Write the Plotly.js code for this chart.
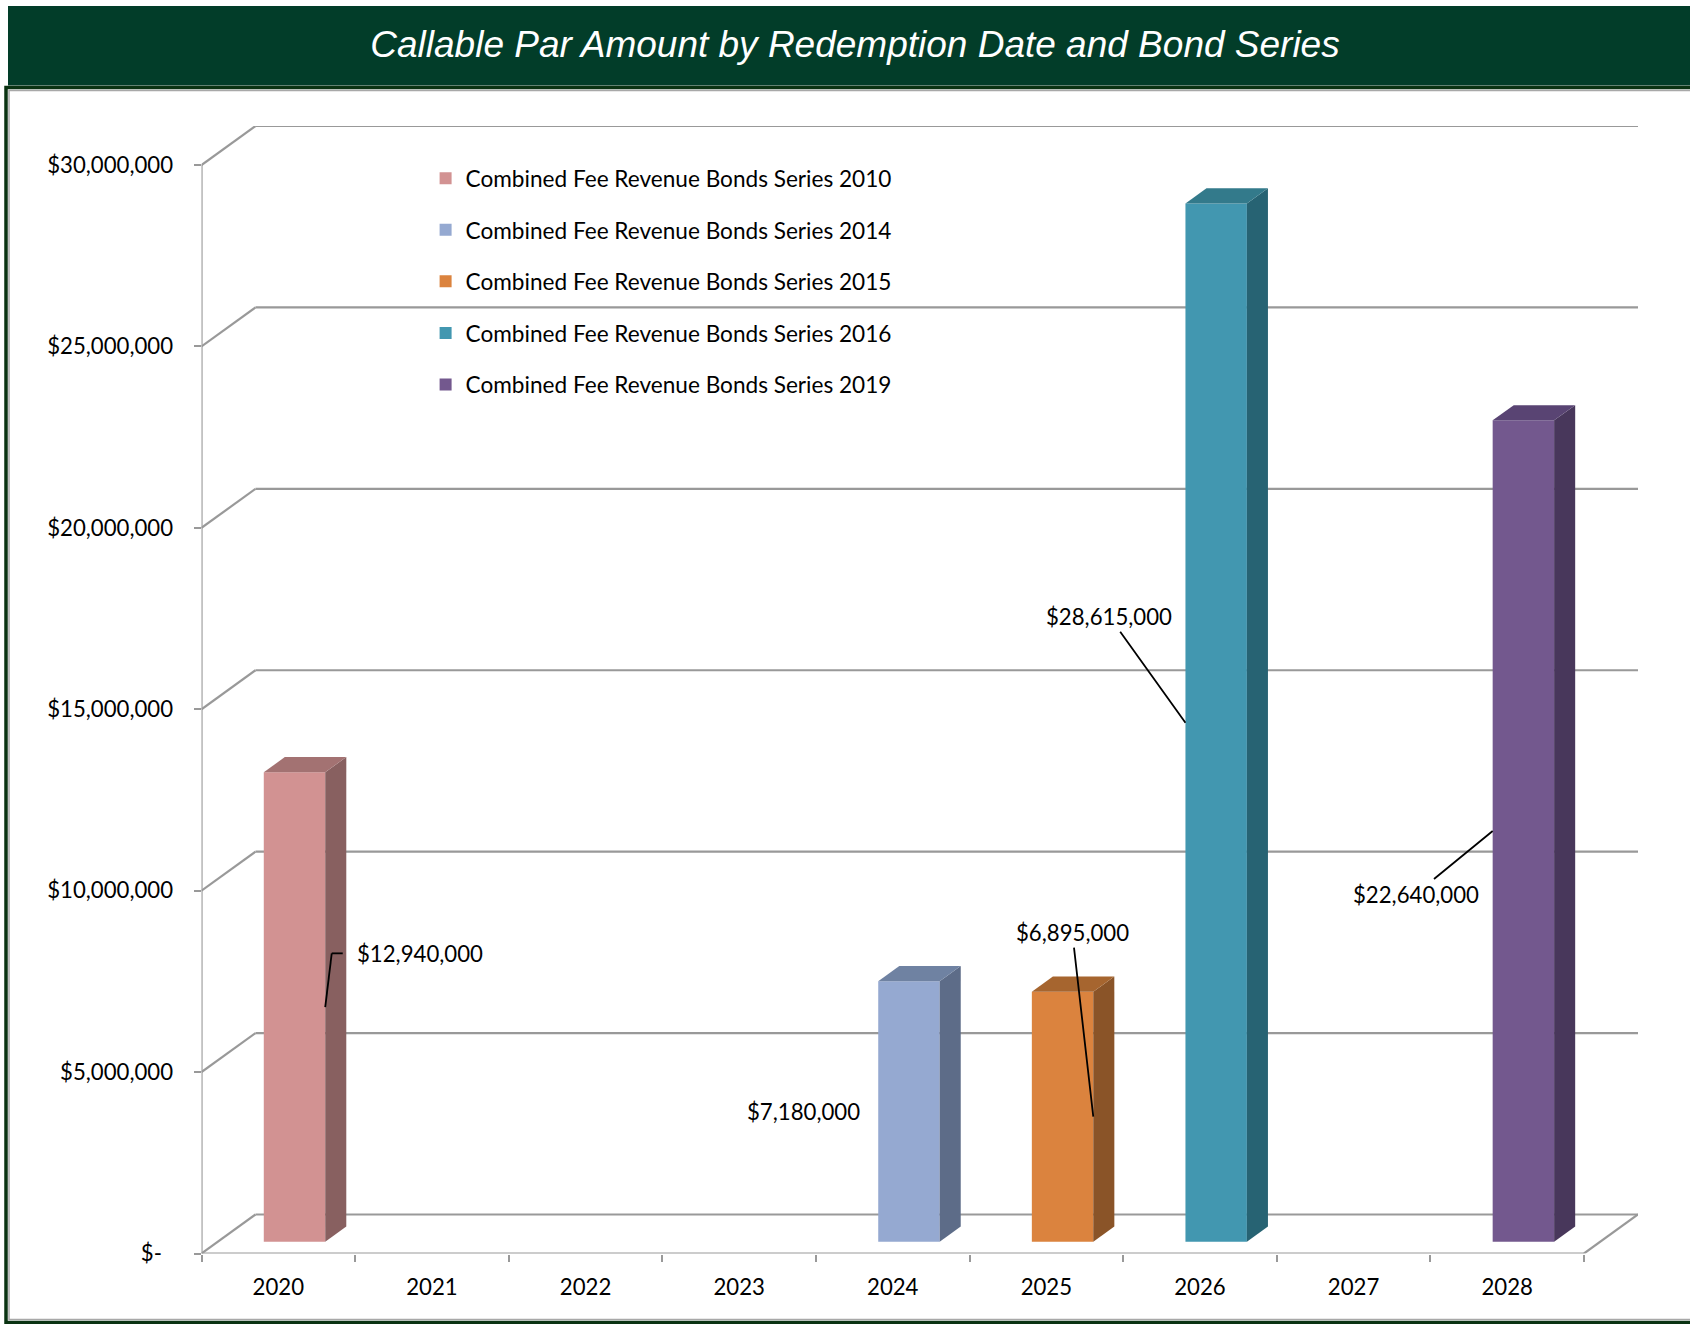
<!DOCTYPE html>
<html>
<head>
<meta charset="utf-8">
<script src="https://cdn.plot.ly/plotly-3.0.1.min.js"></script>
<style>html,body{margin:0;padding:0;background:#fff;}#chart{width:1690px;height:1324px;}</style>
</head>
<body>
<div id="chart"></div>
<script>
// ---------------- DATA ----------------
const years = ['2020', '2021', '2022', '2023', '2024', '2025', '2026', '2027', '2028'];
const seriesNames = [
  'Combined Fee Revenue Bonds Series 2010',
  'Combined Fee Revenue Bonds Series 2014',
  'Combined Fee Revenue Bonds Series 2015',
  'Combined Fee Revenue Bonds Series 2016',
  'Combined Fee Revenue Bonds Series 2019'
];
const series2010 = [12940000, null, null, null, null, null, null, null, null];
const series2014 = [null, null, null, null, 7180000, null, null, null, null];
const series2015 = [null, null, null, null, null, 6895000, null, null, null];
const series2016 = [null, null, null, null, null, null, 28615000, null, null];
const series2019 = [null, null, null, null, null, null, null, null, 22640000];
const yTickVals = [0, 5000000, 10000000, 15000000, 20000000, 25000000, 30000000];
const yTickText = ['$-\u2002', '$5,000,000', '$10,000,000', '$15,000,000', '$20,000,000', '$25,000,000', '$30,000,000'];

// ---------------- STYLE ----------------
const allSeries = [series2010, series2014, series2015, series2016, series2019];
const frontColors = ['#D29292', '#95A9D1', '#DB833E', '#4297B0', '#73588E'];
const sideColors  = ['#886060', '#5D6C88', '#8A5428', '#276373', '#48375B'];
const topColors   = ['#A37272', '#6F82A2', '#A6652F', '#337A8B', '#594473'];
// label placement relative to the middle of the bar's front face edge (px)
const labelStyle = [
  {side: 'right', mode: 'bent', kx: 6.5, ky: 53.7, hx: 17.5, tx: 29.5},
  {side: 'left',  mode: 'none', xshift: -16},
  {side: 'right', mode: 'arrow', ax: -21, ay: -184},
  {side: 'left',  mode: 'arrow', ax: -76, ay: -106},
  {side: 'left',  mode: 'arrow', ax: -77, ay: 63}
];

const W = 1690, H = 1324;
const plotL = 201.5, plotR = 1638, plotT = 126, plotB = 1253.5;
const depthPxX = 54, depthPxY = 39;
const yMax = 30000000;
const nCat = years.length;
const pxPerCat = (plotR - plotL - depthPxX) / nCat;
const pxPerVal = (plotB - plotT - depthPxY) / yMax;
const dxd = depthPxX / pxPerCat;      // depth offset in category units
const dyd = depthPxY / pxPerVal;      // depth offset in value units
const f0 = 0.3, fd = 0.39, halfW = 0.2;

const FONT = 'Lato, "Open Sans", sans-serif';
const FS = 22.2;
const LFS = 22.6;
const gridColor = '#999999';

const xIdx = years.map((_, i) => i + 0.5);
const traces = [];
const annotations = [];
const shapes = [];

allSeries.forEach((vals, s) => {
  const sideX = [], sideY = [], topX = [], topY = [];
  const base = f0 * dyd, ox = fd * dxd, oy = fd * dyd;
  vals.forEach((v, i) => {
    if (v === null) return;
    const cx = xIdx[i];
    const xl = cx - halfW + f0 * dxd, xr = cx + halfW + f0 * dxd;
    const t = base + v;
    sideX.push(xr, xr + ox, xr + ox, xr, xr, null);
    sideY.push(base, base + oy, t + oy, t, base, null);
    topX.push(xl, xr, xr + ox, xl + ox, xl, null);
    topY.push(t, t, t + oy, t + oy, t, null);
    const ls = labelStyle[s];
    const px = ls.side === 'right' ? xr : xl;
    const py = base + v / 2;
    const ann = {
      x: px, y: py, xref: 'x', yref: 'y',
      text: '$' + v.toLocaleString('en-US'),
      font: {family: FONT, size: FS, color: '#000'}
    };
    if (ls.mode === 'arrow') {
      Object.assign(ann, {showarrow: true, ax: ls.ax, ay: ls.ay, arrowhead: 0, arrowwidth: 1.8,
        arrowcolor: '#000', standoff: 0, startstandoff: 0});
    } else if (ls.mode === 'bent') {
      Object.assign(ann, {showarrow: false, xanchor: 'left', yanchor: 'middle', xshift: ls.tx, yshift: ls.ky});
      shapes.push({type: 'line', xref: 'x', yref: 'y', xsizemode: 'pixel', ysizemode: 'pixel',
        xanchor: px, yanchor: py, x0: 0, y0: 0, x1: ls.kx, y1: ls.ky, line: {color: '#000', width: 1.8}});
      shapes.push({type: 'line', xref: 'x', yref: 'y', xsizemode: 'pixel', ysizemode: 'pixel',
        xanchor: px, yanchor: py, x0: ls.kx, y0: ls.ky, x1: ls.hx, y1: ls.ky, line: {color: '#000', width: 1.8}});
    } else {
      Object.assign(ann, {showarrow: false, xanchor: 'right', yanchor: 'middle', xshift: ls.xshift});
    }
    annotations.push(ann);
  });
  traces.push({
    type: 'scatter', mode: 'lines', x: sideX, y: sideY, fill: 'toself',
    fillcolor: sideColors[s], line: {width: 0}, showlegend: false, hoverinfo: 'skip'
  });
  traces.push({
    type: 'scatter', mode: 'lines', x: topX, y: topY, fill: 'toself',
    fillcolor: topColors[s], line: {width: 0}, showlegend: false, hoverinfo: 'skip'
  });
  traces.push({
    type: 'bar', name: seriesNames[s], x: xIdx, y: vals,
    base: f0 * dyd, width: 2 * halfW, offset: -halfW + f0 * dxd,
    marker: {color: frontColors[s], line: {width: 0}},
    legendgroup: 'g' + s
  });
});

// back wall gridlines, side-wall diagonals, floor, y axis line
yTickVals.forEach(t => {
  shapes.push({type: 'line', xref: 'x', yref: 'y', x0: dxd, x1: nCat + dxd, y0: t + dyd, y1: t + dyd,
    line: {color: gridColor, width: 2.2}, layer: 'below'});
  shapes.push({type: 'line', xref: 'x', yref: 'y', x0: 0, x1: dxd, y0: t, y1: t + dyd,
    line: {color: gridColor, width: 2.2}, layer: 'below'});
});
shapes.push({type: 'line', xref: 'x', yref: 'y', x0: 0, x1: nCat, y0: 0, y1: 0, line: {color: gridColor, width: 2.2}, layer: 'below'});
shapes.push({type: 'line', xref: 'x', yref: 'y', x0: nCat, x1: nCat + dxd, y0: 0, y1: dyd, line: {color: gridColor, width: 2.2}, layer: 'below'});
shapes.push({type: 'line', xref: 'x', yref: 'y', x0: 0, x1: 0, y0: 0, y1: yMax, line: {color: gridColor, width: 2.2}, layer: 'below'});
// title band and chart frame
shapes.push({type: 'rect', xref: 'paper', yref: 'paper', x0: 8 / W, x1: 1, y0: 1 - 85.5 / H, y1: 1 - 6 / H,
  fillcolor: '#023D29', line: {width: 0}, layer: 'below'});
shapes.push({type: 'rect', xref: 'paper', yref: 'paper', x0: 6 / W, x1: 1 + 10 / W, y0: 1 - 1322.5 / H, y1: 1 - 87.5 / H,
  fillcolor: 'rgba(0,0,0,0)', line: {color: '#0A3312', width: 3.5}, layer: 'below'});
shapes.push({type: 'rect', xref: 'paper', yref: 'paper', x0: 9 / W, x1: 1 + 10 / W, y0: 1 - 1319.5 / H, y1: 1 - 90.5 / H,
  fillcolor: 'rgba(0,0,0,0)', line: {color: '#A8A8A8', width: 1.5}, layer: 'below'});

const layout = {
  width: W, height: H,
  margin: {l: 0, r: 0, t: 0, b: 0},
  paper_bgcolor: '#ffffff', plot_bgcolor: 'rgba(0,0,0,0)',
  barmode: 'overlay',
  title: {
    text: 'Callable Par Amount by Redemption Date and Bond Series',
    font: {family: '"Liberation Sans", Arial, sans-serif', size: 37, color: '#ffffff', style: 'italic'},
    x: 855 / W, xanchor: 'center', xref: 'paper',
    y: 1 - 44 / H, yanchor: 'middle', yref: 'container'
  },
  xaxis: {
    domain: [plotL / W, plotR / W],
    range: [0, nCat + dxd],
    tickmode: 'array', tickvals: xIdx, ticktext: years,
    ticks: '', showgrid: false, zeroline: false, showline: false,
    tickfont: {family: FONT, size: FS, color: '#000'},
    ticklabelstandoff: 18,
    minor: {ticks: 'outside', tickmode: 'linear', tick0: 0, dtick: 1, ticklen: 7, tickwidth: 2, tickcolor: gridColor, showgrid: false},
    fixedrange: true
  },
  yaxis: {
    domain: [1 - plotB / H, 1 - plotT / H],
    range: [0, yMax + dyd],
    tickmode: 'array', tickvals: yTickVals, ticktext: yTickText,
    ticks: 'outside', ticklen: 7, tickwidth: 2, tickcolor: gridColor,
    showgrid: false, zeroline: false, showline: false,
    tickfont: {family: FONT, size: FS, color: '#000'},
    ticklabelstandoff: 16,
    fixedrange: true
  },
  legend: {
    x: 425.6 / W, xanchor: 'left',
    y: 1 - 157 / H, yanchor: 'top',
    bgcolor: 'rgba(0,0,0,0)',
    font: {family: FONT, size: LFS, color: '#000'},
    tracegroupgap: 19.2,
    traceorder: 'grouped'
  },
  shapes: shapes,
  annotations: annotations,
  showlegend: true
};

Plotly.newPlot('chart', traces, layout, {displayModeBar: false, staticPlot: true});
</script>
</body>
</html>
